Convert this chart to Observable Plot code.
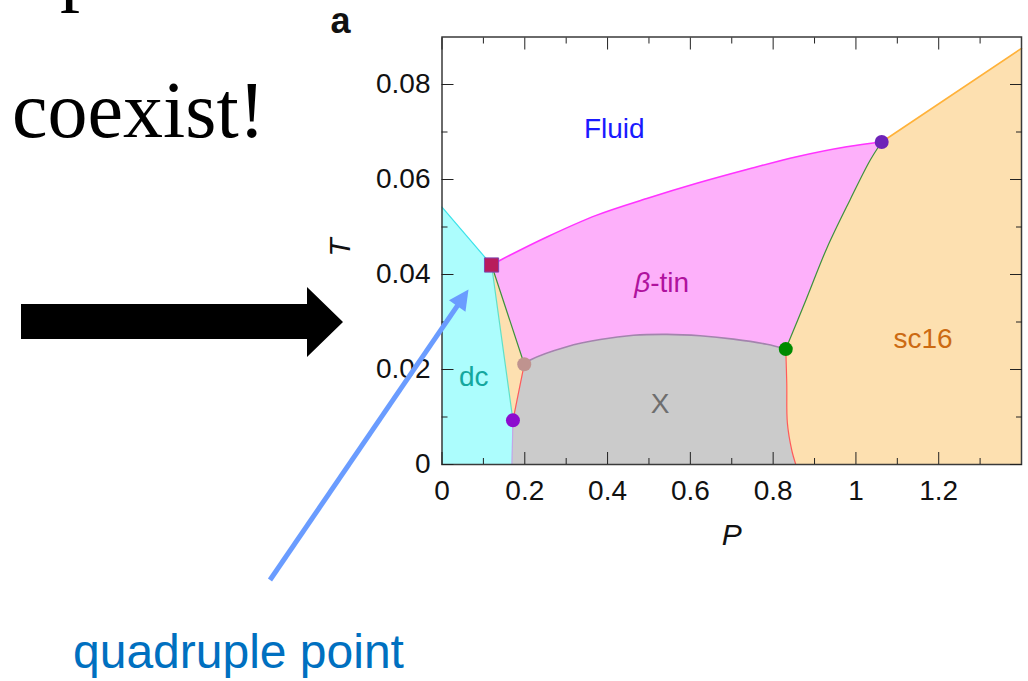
<!DOCTYPE html>
<html>
<head>
<meta charset="utf-8">
<script src="https://cdn.jsdelivr.net/npm/d3@7"></script>
<script src="https://cdn.jsdelivr.net/npm/@observablehq/plot@0.6"></script>
<style>
  html, body { margin: 0; padding: 0; background: #fff; }
  #stage { position: relative; width: 1028px; height: 681px; overflow: hidden; }
  #stage > svg { position: absolute; left: 0; top: 0; }
</style>
</head>
<body>
<div id="stage"></div>
<script>
// ---------------- data (P, T) ----------------
const xMajorTicks = [0, 0.2, 0.4, 0.6, 0.8, 1, 1.2];
const xMinorTicks = [0.1, 0.3, 0.5, 0.7, 0.9, 1.1, 1.3];
const yMajorTicks = [0, 0.02, 0.04, 0.06, 0.08];
const yMinorTicks = [0.01, 0.03, 0.05, 0.07];
const xDomain = [0, 1.4];
const yDomain = [0, 0.09];

// phase boundaries, each as a list of [P, T]
const fluidDc    = [[0, 0.0542], [0.1197, 0.0420]];
const fluidBeta  = [[0.1197, 0.0420], [0.1408, 0.0430], [0.2535, 0.0479], [0.3742, 0.0525], [0.4949, 0.0560],
                    [0.6156, 0.0592], [0.7364, 0.0621], [0.8571, 0.0648], [0.9778, 0.0669], [1.0623, 0.0679]];
const fluidSc16  = [[1.0623, 0.0679], [1.4, 0.0876]];
const betaSc16   = [[1.0623, 0.0679], [1.0340, 0.0640], [0.9857, 0.0557], [0.9300, 0.0456], [0.8800, 0.0348], [0.8305, 0.0243]];
const betaX      = [[0.1987, 0.0211], [0.2132, 0.0220], [0.3018, 0.0248], [0.3822, 0.0263], [0.4626, 0.0272],
                    [0.5432, 0.0274], [0.6236, 0.0271], [0.7040, 0.0264], [0.7846, 0.0253], [0.8305, 0.0243]];
const xSc16      = [[0.8305, 0.0243], [0.8329, 0.0171], [0.8344, 0.0087], [0.8450, 0.0030], [0.8547, 0]];
const sliverBeta = [[0.1197, 0.0420], [0.1987, 0.0211]];
const sliverDc   = [[0.1197, 0.0420], [0.1714, 0.0093]];
const sliverX    = [[0.1987, 0.0211], [0.1714, 0.0093]];
const dcX        = [[0.1714, 0.0093], [0.1690, 0]];

// triple / quadruple points
const junctionP     = [0.1987, 0.1714, 0.8305, 1.0623];
const junctionT     = [0.0211, 0.0093, 0.0243, 0.0679];
const junctionColor = ["#bf938f", "#8c0ccf", "#008a00", "#6e22b8"];
const quadP = [0.1197];
const quadT = [0.0420];

// phase labels
const phaseNames  = ["Fluid", "dc", "X", "sc16"];
const phaseLabelP = [0.4163, 0.0768, 0.5270, 1.162];
const phaseLabelT = [0.0706, 0.0185, 0.0128, 0.0265];
const phaseColors = ["#1a1aff", "#14a79e", "#6e6e6e", "#cc6a12"];
const betaLabelP = 0.503;
const betaLabelT = 0.0383;

// ---------------- build polygons ----------------
const rev = a => a.slice().reverse();
const polys = {
  dc:    [[0, 0], ...fluidDc, sliverDc[1], dcX[1]],
  sliver:[sliverBeta[0], sliverBeta[1], sliverDc[1]],
  beta:  [...fluidBeta, ...betaSc16.slice(1), ...rev(betaX).slice(1)],
  X:     [dcX[1], dcX[0], ...betaX, ...xSc16.slice(1)],
  sc16:  [...xSc16, [xDomain[1], 0], fluidSc16[1], ...betaSc16]
};
const polyFill = {dc: "#acfdfd", sliver: "#fde0b0", beta: "#fdb0fa", X: "#cbcbcb", sc16: "#fde0b0"};
const toRows = a => a.map(([P, T]) => ({P, T}));

const fills = Object.keys(polys).map(k =>
  Plot.line(toRows(polys[k]), {x: "P", y: "T", fill: polyFill[k], stroke: polyFill[k], strokeWidth: 0.5}));

const boundary = (pts, color, w = 1) =>
  Plot.line(toRows(pts), {x: "P", y: "T", stroke: color, strokeWidth: w, curve: "catmull-rom"});

const junctions = junctionP.map((P, i) => ({P, T: junctionT[i], c: junctionColor[i]}));
const quad = quadP.map((P, i) => ({P, T: quadT[i]}));
const labels = phaseNames.map((n, i) => ({n, P: phaseLabelP[i], T: phaseLabelT[i], c: phaseColors[i]}));

const font = "'Liberation Sans', Arial, Helvetica, sans-serif";

const plot = Plot.plot({
  width: 1028,
  height: 681,
  marginLeft: 441.5,
  marginRight: 7,
  marginTop: 36.5,
  marginBottom: 217,
  x: {domain: xDomain},
  y: {domain: yDomain},
  style: {fontFamily: font, fontSize: "28px", background: "transparent", color: "#111"},
  marks: [
    ...fills,
    boundary(fluidDc, "#3de3ea", 1.2),
    boundary(fluidBeta, "#ff33ff", 1.6),
    boundary(fluidSc16, "#ffb23a", 1.6),
    boundary(betaSc16, "#3d8f3d", 1.2),
    boundary(betaX, "#a384ad", 1.6),
    boundary(xSc16, "#ff5a5a", 1.2),
    boundary(sliverBeta, "#3d8f3d", 1.2),
    boundary(sliverDc, "#5fe0c8", 1.2),
    boundary(sliverX, "#ff5a5a", 1.2),
    boundary(dcX, "#c3a6e6", 1.2),
    Plot.dot(junctions, {x: "P", y: "T", fill: "c", r: 7}),
    Plot.dot(quad, {x: "P", y: "T", symbol: "square", r: 8, fill: "#b81c5c", stroke: "#7d45b0", strokeWidth: 1}),
    Plot.text(labels, {x: "P", y: "T", text: "n", fill: "c", fontSize: 28}),
    Plot.text(["β"], {x: () => betaLabelP, y: () => betaLabelT, text: d => d, textAnchor: "end", fontStyle: "italic", fill: "#b0129e", fontSize: 28}),
    Plot.text(["-tin"], {x: () => betaLabelP, y: () => betaLabelT, text: d => d, textAnchor: "start", fill: "#b0129e", fontSize: 28}),
    Plot.frame({stroke: "#3a3a3a", strokeWidth: 1.5}),
    Plot.axisX({ticks: xMajorTicks, anchor: "bottom", tickSize: -12, tickPadding: 28, tickFormat: d => String(d), fontSize: 28, label: null, stroke: "#222", fill: "#111"}),
    Plot.axisX({ticks: xMinorTicks, anchor: "bottom", tickSize: -6, fill: "none", label: null, stroke: "#222"}),
    Plot.axisX({ticks: xMajorTicks, anchor: "top", tickSize: -12, fill: "none", label: null, stroke: "#222"}),
    Plot.axisX({ticks: xMinorTicks, anchor: "top", tickSize: -6, fill: "none", label: null, stroke: "#222"}),
    Plot.axisY({ticks: yMajorTicks, anchor: "left", tickSize: -12, tickPadding: 23.5, tickFormat: d => String(d), fontSize: 28, label: null, stroke: "#222", fill: "#111"}),
    Plot.axisY({ticks: yMinorTicks, anchor: "left", tickSize: -6, fill: "none", label: null, stroke: "#222"}),
    Plot.axisY({ticks: yMajorTicks, anchor: "right", tickSize: -12, fill: "none", label: null, stroke: "#222"}),
    Plot.axisY({ticks: yMinorTicks, anchor: "right", tickSize: -6, fill: "none", label: null, stroke: "#222"}),
    Plot.text(["P"], {frameAnchor: "bottom", text: d => d, dy: 80, fontStyle: "italic", fontSize: 30, fill: "#111"}),
    Plot.text(["T"], {frameAnchor: "left", text: d => d, dx: -101.5, dy: 6, rotate: -90, fontStyle: "italic", fontSize: 30, fill: "#111"}),
    Plot.text(["a"], {frameAnchor: "top-left", text: d => d, dx: -111.5, dy: -30, textAnchor: "start", fontWeight: "bold", fontSize: 36, fill: "#111"})
  ]
});

const stage = document.getElementById("stage");
stage.appendChild(plot);

// ---------------- slide annotations (overlay) ----------------
const ov = d3.create("svg").attr("width", 1028).attr("height", 681).style("overflow", "hidden");
ov.append("text").attr("x", 60).attr("y", -4)
  .attr("font-family", "'Liberation Serif', 'Times New Roman', serif").attr("font-size", 80).attr("fill", "#000").text("p");
ov.append("text").attr("x", 12).attr("y", 137)
  .attr("font-family", "'Liberation Serif', 'Times New Roman', serif").attr("font-size", 80).attr("fill", "#000").text("coexist!");
// black block arrow
ov.append("path").attr("d", "M21,304 H307 V287 L343,322 L307,357 V339 H21 Z").attr("fill", "#000");
// blue arrow to the quadruple point
const tail = [270, 580], tip = [468.5, 289.5];
const L = Math.hypot(tip[0] - tail[0], tip[1] - tail[1]);
const u = [(tip[0] - tail[0]) / L, (tip[1] - tail[1]) / L], n = [-u[1], u[0]];
const hl = 20, hw = 10;
const base = [tip[0] - hl * u[0], tip[1] - hl * u[1]];
ov.append("line").attr("x1", tail[0]).attr("y1", tail[1]).attr("x2", base[0] + 2 * u[0]).attr("y2", base[1] + 2 * u[1])
  .attr("stroke", "#6a9cff").attr("stroke-width", 5);
ov.append("path").attr("d", `M${tip} L${base[0] + hw * n[0]},${base[1] + hw * n[1]} L${base[0] - hw * n[0]},${base[1] - hw * n[1]} Z`)
  .attr("fill", "#6a9cff");
ov.append("text").attr("x", 73).attr("y", 668)
  .attr("font-family", font).attr("font-size", 48).attr("fill", "#0070c0").text("quadruple point");
stage.appendChild(ov.node());
</script>
</body>
</html>
